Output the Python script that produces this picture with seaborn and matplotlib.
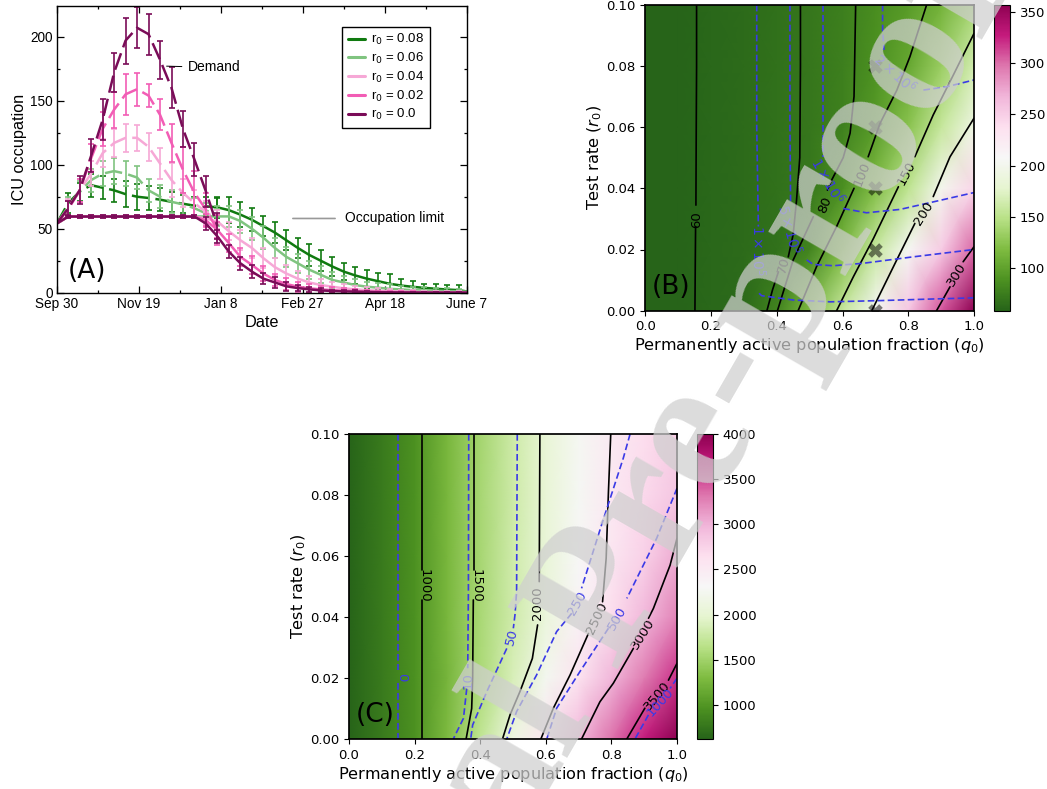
"""
ICU occupation curves and the two (q0, r0) parameter maps.
"""

import numpy as np
import matplotlib
matplotlib.use("Agg")
import matplotlib.pyplot as plt
from matplotlib.lines import Line2D
from matplotlib.ticker import MultipleLocator
import seaborn as sns

# Panel A: weekly values, days since Sep 30
n = np.nan
days = list(range(0, 250, 7)) + [250]
demand_days = days[:15]
date_ticks = [0, 50, 100, 150, 200, 250]
date_labels = ["Sep 30", "Nov 19", "Jan 8", "Feb 27", "Apr 18", "June 7"]
series_labels = ["0.08", "0.06", "0.04", "0.02", "0.0"]
series_colors = ["#107a10", "#80c480", "#f6a8d6", "#f25db5", "#7a0c58"]

demand_008 = [54, 70, 79, 84, 82, 80, 77, 75, 74, 72.7, 71, 69.5, 68, 67.5, 66.7]
demand_006 = [54, 67, 79, 88, 93, 95, 93, 90, 80, 75, 71, 69, 66, 62, 60]
demand_004 = [54, 66, 80, 93, 109, 117, 121, 121, 114, 101, 88, 78, 70, 63, 57]
demand_002 = [54, 65, 80, 105, 128, 143, 155, 159, 154, 139, 117, 96, 78, 65, 49]
demand_000 = [54, 66, 80, 107, 135, 172, 197, 207, 202, 182, 160, 128, 104, 79, 52]

demand_err_008 = [n, 8, 7, 9, 9, 9, 10, 10, 9, 9, 8, 7, 7, 7, 7]
demand_err_006 = [n, 8, 8, 9, 10, 10, 10, 9, 9, 9, 9, 9, 8, 8, 8]
demand_err_004 = [n, 7, 9, 10, 11, 11, 11, 10, 11, 12, 13, 11, 10, 9, 8]
demand_err_002 = [n, 7, 9, 11, 13, 14, 16, 13, 9, 12, 15, 18, 17, 13, 12]
demand_err_000 = [n, 6, 11, 13, 16, 15, 18, 16, 16, 15, 16, 14, 13, 12, 10]

flat = [54] + [59.5] * 12
occupation_008 = flat + [n, 66.7, 64.5, 61, 57, 52, 47, 41, 35, 29.5, 25, 20.5, 16.5, 13.5, 11, 9, 7, 5.6, 4.6, 3.8, 3.1, 2.5, 2, 1]
occupation_006 = flat + [59.6, 59.6, 59.6, 56, 50, 43, 35, 28, 23, 18, 14, 10, 8, 6, 4.7, 3.9, 3, 2.6, 2, 1.8, 1.5, 1.3, 1.1, 0.8]
occupation_004 = flat + [58, 55.7, 48, 41, 35, 27, 20, 15, 11, 8, 6, 4.7, 3.4, 2.6, 2, 1.5, 1.2, 1, 0.8, 0.6, 0.5, 0.4, 0.3, 0.2]
occupation_002 = flat + [56.5, 49, 38.7, 28, 21.7, 15, 10, 6.8, 4.7, 3.4, 2.6, 2, 1.5, 1.2, 0.9, 0.7, 0.5, 0.4, 0.3, 0.2, 0.2, 0.1, 0.1, 0.1]
occupation_000 = flat + [54, 44, 32, 23, 16.5, 11, 8, 5, 3.6, 2.6, 1.8, 1.3, 1, 0.8, 0.6, 0.4, 0.3, 0.2, 0.2, 0.1, 0.1, 0.1, 0.1, 0.1]

flat_err = [n] + [1.5] * 12
occupation_err_008 = flat_err + [n, 8, 10, 10, 9, 8, 8, 8, 8, 8.5, 8, 7.5, 6.5, 6.5, 7, 6.7, 7.5, 5.4, 4.8, 3.2, 3.7, 3.5, 3.7, n]
occupation_err_006 = flat_err + [4, 6, 8, 9, 9, 9, 8, 8, 7.5, 7, 6.5, 6, 5, 4.5, 4, 4, 3.5, 3, 2.5, 2.5, 2, 2, 2, n]
occupation_err_004 = flat_err + [5, 6, 7, 8, 8, 8, 7, 7, 6, 5, 4.5, 4, 3.5, 3, 2.5, 2, 2, 1.5, 1.5, 1, 1, 1, 1, n]
occupation_err_002 = flat_err + [5, 6, 7, 7, 7, 6, 5, 5, 4, 3.5, 3, 2.5, 2, 2, 1.5, 1, 1, 1, 1, 0.5, 0.5, 0.5, 0.5, n]
occupation_err_000 = flat_err + [5, 5, 5, 5, 5, 4.5, 4.5, 3.5, 2.5, 2, 1.5, 1, 1, 1, 0.5, 0.5, 0.5, 0.5, 0.5, 0.5, 0.5, 0.5, 0.5, n]

# Panels B and C: colour fields on a coarse grid
q_grid = [0.0, 0.1, 0.2, 0.3, 0.4, 0.5, 0.6, 0.7, 0.8, 0.9, 1.0]
r_grid = [0.0, 0.02, 0.04, 0.06, 0.08, 0.10]

b_r000 = [58, 59, 61, 64, 80, 118, 157, 205, 255, 308, 357]
b_r002 = [58, 59, 61, 64, 67, 80, 118, 158, 205, 252, 302]
b_r004 = [58, 59, 61, 64, 67, 72, 87, 120, 153, 200, 245]
b_r006 = [58, 59, 61, 64, 67, 71, 78, 95, 125, 157, 193]
b_r008 = [58, 59, 61, 64, 67, 71, 77, 88, 103, 133, 165]
b_r010 = [58, 59, 61, 64, 67, 71, 77, 86, 95, 112, 138]

c_r000 = [623, 790, 960, 1290, 1700, 2140, 2560, 2965, 3330, 3670, 4000]
c_r002 = [623, 790, 960, 1250, 1570, 1875, 2235, 2610, 2980, 3300, 3590]
c_r004 = [623, 790, 960, 1260, 1555, 1810, 2080, 2380, 2680, 2960, 3250]
c_r006 = [623, 790, 960, 1260, 1540, 1800, 2040, 2300, 2550, 2770, 3040]
c_r008 = [623, 790, 960, 1260, 1540, 1790, 2030, 2280, 2525, 2700, 2860]
c_r010 = [623, 790, 960, 1260, 1530, 1790, 2030, 2270, 2505, 2660, 2790]

# Panel B contours, NaN marks the gap left for the label
b_black = {
    "60": ([.156, .156, .155, .154, n, .153, .152, .151], [.1, .08, .06, .0345, n, .0275, .015, 0]),
    "70": ([.472, .472, .470, .460, .450, .435, n, .405, .387, .370], [.1, .08, .05, .036, .025, .0176, n, .0127, .0068, 0]),
    "80": ([.640, .635, .623, .602, .567, .554, n, .511, .450, .402], [.1, .07, .058, .05, .0427, .0394, n, .0307, .0166, 0]),
    "100": ([.856, .805, .765, .714, .689, .678, n, .635, .582, .521, .465], [.1, .083, .072, .0612, .0536, .0503, n, .04, .0275, .0144, 0]),
    "150": ([1, .937, .876, .820, n, .770, .694, .633, .582], [.0906, .077, .064, .0503, n, .0405, .0236, .0111, 0]),
    "200": ([1, .927, .876, n, .820, .765, .689], [.0629, .0503, .0373, n, .0285, .0166, 0]),
    "300": ([1, .967, n, .927, .886], [.0209, .016, n, .0078, 0]),
}
b_blue = {
    "1e5": ([.339, .339, .344, n, .346, .354, .45, .562, .714, .866, 1], [.1, .06, .0275, n, .0057, .0049, .0035, .0029, .0033, .0038, .0042]),
    "5e5": ([.44, .44, .442, n, .491, .511, .572, .663, .815, 1], [.1, .06, .0351, n, .0166, .0151, .0147, .0155, .0176, .02]),
    "1e6": ([.54, .54, .54, n, .602, .673, .775, .886, 1], [.1, .07, .0503, n, .0334, .032, .0331, .0358, .0386]),
    "2e6": ([.722, .722, .726, n, .846, .917, 1], [.1, .092, .0852, n, .0721, .0732, .0754]),
}
b_black_labels = [("60", .156, .0296, 90), ("70", .42, .0148, 75), ("80", .547, .0345, 68),
                  ("100", .658, .0448, 68), ("150", .795, .0448, 62), ("200", .846, .0317, 58),
                  ("300", .947, .0117, 58)]
b_blue_labels = [(r"$1\times10^{5}$", .344, .0195, -90), (r"$5\times10^{5}$", .44, .0265, -75),
                 (r"$1\times10^{6}$", .555, .0425, -60), (r"$2\times10^{6}$", .76, .0775, -42)]
marker_q = [0.7, 0.7, 0.7, 0.7, 0.7]
marker_r = [0.0, 0.02, 0.04, 0.06, 0.08]

# Panel C contours
c_black = {
    "1000": ([.224, .224, n, .222, .222], [.1, .0554, n, .0456, 0]),
    "1500": ([.38, .38, n, .379, .377, .374, .357], [.1, .0554, n, .0456, .02, .01, 0]),
    "2000": ([.582, .58, n, .575, .559, .521, .491, .468], [.1, .0516, n, .0374, .0264, .0155, .0079, 0]),
    "2500": ([.798, .791, .784, .773, n, .73, .674, .623, .585], [.1, .0811, .0592, .045, n, .0346, .021, .0101, 0]),
    "3000": ([1, .979, .928, .913, n, .867, .806, .765, .709], [.0658, .057, .0428, .0396, n, .0297, .0183, .0122, 0]),
    "3500": ([1, .974, n, .902, .847], [.0248, .0193, n, .0101, 0]),
}
c_blue = {
    "0": ([.15, .15, n, .15, .15], [.1, .0226, n, .0183, 0]),
    "10": ([.365, .364, .362, n, .359, .349, .318], [.1, .0483, .0232, n, .0166, .0068, 0]),
    "50": ([.513, .511, .506, .501, n, .481, .42, .377, .371], [.1, .0483, .0407, .0363, n, .0297, .0155, .0046, 0]),
    "250": ([.857, .836, .77, .709, n, .679, .633, .572, .511, .481], [.1, .092, .0702, .0494, n, .0412, .0352, .021, .009, 0]),
    "500": ([1, .938, .847, n, .791, .704, .633, .603], [.0822, .0658, .0461, n, .0363, .0221, .0101, 0]),
    "1000": ([1, .979, n, .913, .872], [.0199, .0166, n, .0079, 0]),
}
c_black_labels = [("1000", .23, .0503, -90), ("1500", .388, .0503, -90), ("2000", .575, .0445, 90),
                  ("2500", .755, .0395, 65), ("3000", .897, .0345, 58), ("3500", .939, .014, 50)]
c_blue_labels = [("0", .16, .0204, -90), ("10", .362, .0193, 90), ("50", .497, .0336, 75),
                 ("250", .697, .0445, 60), ("500", .817, .0395, 60), ("1000", .948, .012, 48)]

BLUE = "#3a3ae6"
FIG_W, FIG_H = 1047, 789


def axes_box(left, top, right, bottom):
    """Axes rectangle from pixel edges."""
    return [left / FIG_W, 1 - bottom / FIG_H, (right - left) / FIG_W, (bottom - top) / FIG_H]


def draw_line(ax, x, y, **kwargs):
    """Draw a line with seaborn, one call per stretch between NaNs."""
    x = np.asarray(x, dtype=float)
    y = np.asarray(y, dtype=float)
    start = 0
    for stop in list(np.where(np.isnan(y))[0]) + [len(y)]:
        if stop - start > 1:
            sns.lineplot(x=x[start:stop], y=y[start:stop], ax=ax, sort=False,
                         estimator=None, legend=False, **kwargs)
        start = stop + 1


def plot_occupation(ax):
    demand = [demand_008, demand_006, demand_004, demand_002, demand_000]
    demand_err = [demand_err_008, demand_err_006, demand_err_004, demand_err_002, demand_err_000]
    occupation = [occupation_008, occupation_006, occupation_004, occupation_002, occupation_000]
    occupation_err = [occupation_err_008, occupation_err_006, occupation_err_004,
                      occupation_err_002, occupation_err_000]

    for i, color in enumerate(series_colors):
        ax.errorbar(demand_days, demand[i], yerr=demand_err[i], fmt="none", ecolor=color,
                    elinewidth=1.2, capsize=2.5, capthick=1.2)
        ax.errorbar(days, occupation[i], yerr=occupation_err[i], fmt="none", ecolor=color,
                    elinewidth=1.2, capsize=2.5, capthick=1.2)
        draw_line(ax, demand_days, demand[i], color=color, linewidth=1.8,
                  linestyle=(0, (7, 2.5)))
        draw_line(ax, days, occupation[i], color=color, linewidth=1.8)

    ax.set_xlim(0, 250)
    ax.set_ylim(0, 224)
    ax.set_xticks(date_ticks, date_labels)
    ax.xaxis.set_minor_locator(MultipleLocator(25))
    ax.yaxis.set_major_locator(MultipleLocator(50))
    ax.yaxis.set_minor_locator(MultipleLocator(25))
    ax.tick_params(which="major", direction="in", top=True, right=True, length=5, width=0.9,
                   labelsize=9.8, pad=3)
    ax.tick_params(which="minor", direction="in", top=True, right=True, length=2.5, width=0.9)
    ax.set_xlabel("Date", fontsize=11.7, labelpad=3)
    ax.set_ylabel("ICU occupation", fontsize=11.7, labelpad=2)
    for spine in ax.spines.values():
        spine.set_linewidth(1.0)

    ax.annotate("Demand", xy=(67, 177), xytext=(80, 176), fontsize=10, va="center",
                arrowprops=dict(arrowstyle="-", color="black", linewidth=0.7, shrinkA=2, shrinkB=0))
    ax.annotate("Occupation limit", xy=(144, 58), xytext=(176, 58), fontsize=10, va="center",
                arrowprops=dict(arrowstyle="-", color="#999999", linewidth=1.2, shrinkA=5, shrinkB=0))
    ax.text(6.5, 7, "(A)", fontsize=19, family="DejaVu Sans", va="bottom")

    handles = [Line2D([], [], color=c, linewidth=2.2) for c in series_colors]
    labels = [rf"r$_0$ = {v}" for v in series_labels]
    legend = ax.legend(handles, labels, loc="upper left", bbox_to_anchor=(0.697, 0.927),
                       fontsize=9.5, frameon=True, fancybox=False, framealpha=1,
                       edgecolor="black", borderaxespad=0, handlelength=1.3, labelspacing=0.28,
                       handletextpad=0.5, borderpad=0.4)
    legend.get_frame().set_linewidth(1.0)


def plot_field(fig, ax, cax, field, vmin, vmax, cbar_ticks, black, blue,
               black_labels, blue_labels, blue_size, panel):
    q_mesh, r_mesh = np.meshgrid(q_grid, r_grid)
    mesh = ax.pcolormesh(q_mesh, r_mesh, np.array(field), cmap="PiYG_r", vmin=vmin, vmax=vmax,
                         shading="gouraud")
    for q, r in black.values():
        draw_line(ax, q, r, color="black", linewidth=1.2)
    for q, r in blue.values():
        draw_line(ax, q, r, color=BLUE, linewidth=1.2, linestyle=(0, (4, 2)))
    for text, q, r, angle in black_labels:
        ax.text(q, r, text, color="black", fontsize=9.5, rotation=angle,
                ha="center", va="center", rotation_mode="anchor")
    for text, q, r, angle in blue_labels:
        ax.text(q, r, text, color=BLUE, fontsize=blue_size, rotation=angle,
                ha="center", va="center", rotation_mode="anchor")

    ax.set_xlim(0, 1)
    ax.set_ylim(0, 0.1)
    ax.set_xticks([0, 0.2, 0.4, 0.6, 0.8, 1.0])
    ax.set_yticks([0, 0.02, 0.04, 0.06, 0.08, 0.1], ["0.00", "0.02", "0.04", "0.06", "0.08", "0.10"])
    ax.tick_params(labelsize=9.5, length=3.5, width=0.8, direction="out", pad=3.5)
    ax.set_xlabel(r"Permanently active population fraction ($q_0$)", fontsize=11.6, labelpad=2)
    ax.set_ylabel(r"Test rate ($r_0$)", fontsize=11.6, labelpad=1.5)
    ax.text(0.02, 0.0035, panel, fontsize=19, va="bottom")

    cbar = fig.colorbar(mesh, cax=cax, ticks=cbar_ticks)
    cbar.ax.tick_params(labelsize=9.5, length=3.5, width=0.8)
    cbar.outline.set_linewidth(0.8)


def main():
    sns.set_theme(style="ticks")
    plt.rcParams.update({"text.color": "black", "axes.labelcolor": "black",
                         "xtick.color": "black", "ytick.color": "black",
                         "axes.edgecolor": "black"})
    fig = plt.figure(figsize=(FIG_W / 100, FIG_H / 100), dpi=100)

    # Panel A uses the Helvetica look, the maps stay in DejaVu
    plt.rcParams["font.family"] = ["Liberation Sans"]
    plt.rcParams["mathtext.default"] = "regular"
    ax_a = fig.add_axes(axes_box(56.7, 6, 466.7, 292.7))
    plot_occupation(ax_a)
    plt.rcParams["font.family"] = ["DejaVu Sans"]
    plt.rcParams["mathtext.default"] = "it"

    ax_b = fig.add_axes(axes_box(645.3, 4.7, 974, 310.7))
    cax_b = fig.add_axes(axes_box(994.3, 4.7, 1010, 310.7))
    plot_field(fig, ax_b, cax_b, [b_r000, b_r002, b_r004, b_r006, b_r008, b_r010], 58.6, 357,
               [100, 150, 200, 250, 300, 350], b_black, b_blue, b_black_labels, b_blue_labels,
               10, "(B)")
    sns.scatterplot(x=marker_q, y=marker_r, ax=ax_b, marker="X", s=110, color="black",
                    alpha=0.5, linewidth=0, legend=False, clip_on=True)
    ax_b.set_xlim(0, 1)
    ax_b.set_ylim(0, 0.1)

    ax_c = fig.add_axes(axes_box(349, 434, 677, 739))
    cax_c = fig.add_axes(axes_box(697.3, 434, 713, 739))
    plot_field(fig, ax_c, cax_c, [c_r000, c_r002, c_r004, c_r006, c_r008, c_r010], 623, 4000,
               [1000, 1500, 2000, 2500, 3000, 3500, 4000], c_black, c_blue, c_black_labels,
               c_blue_labels, 9.5, "(C)")

    # Watermark over everything
    fig.text(643 / FIG_W, 1 - 628 / FIG_H, "Journal Pre-proof", fontsize=138,
             family="Liberation Serif", weight="bold", color="#cfcfcf", alpha=0.73, rotation=60,
             ha="center", va="baseline", rotation_mode="anchor")

    fig.savefig("out.png", dpi=100)
    plt.close(fig)


if __name__ == "__main__":
    main()
